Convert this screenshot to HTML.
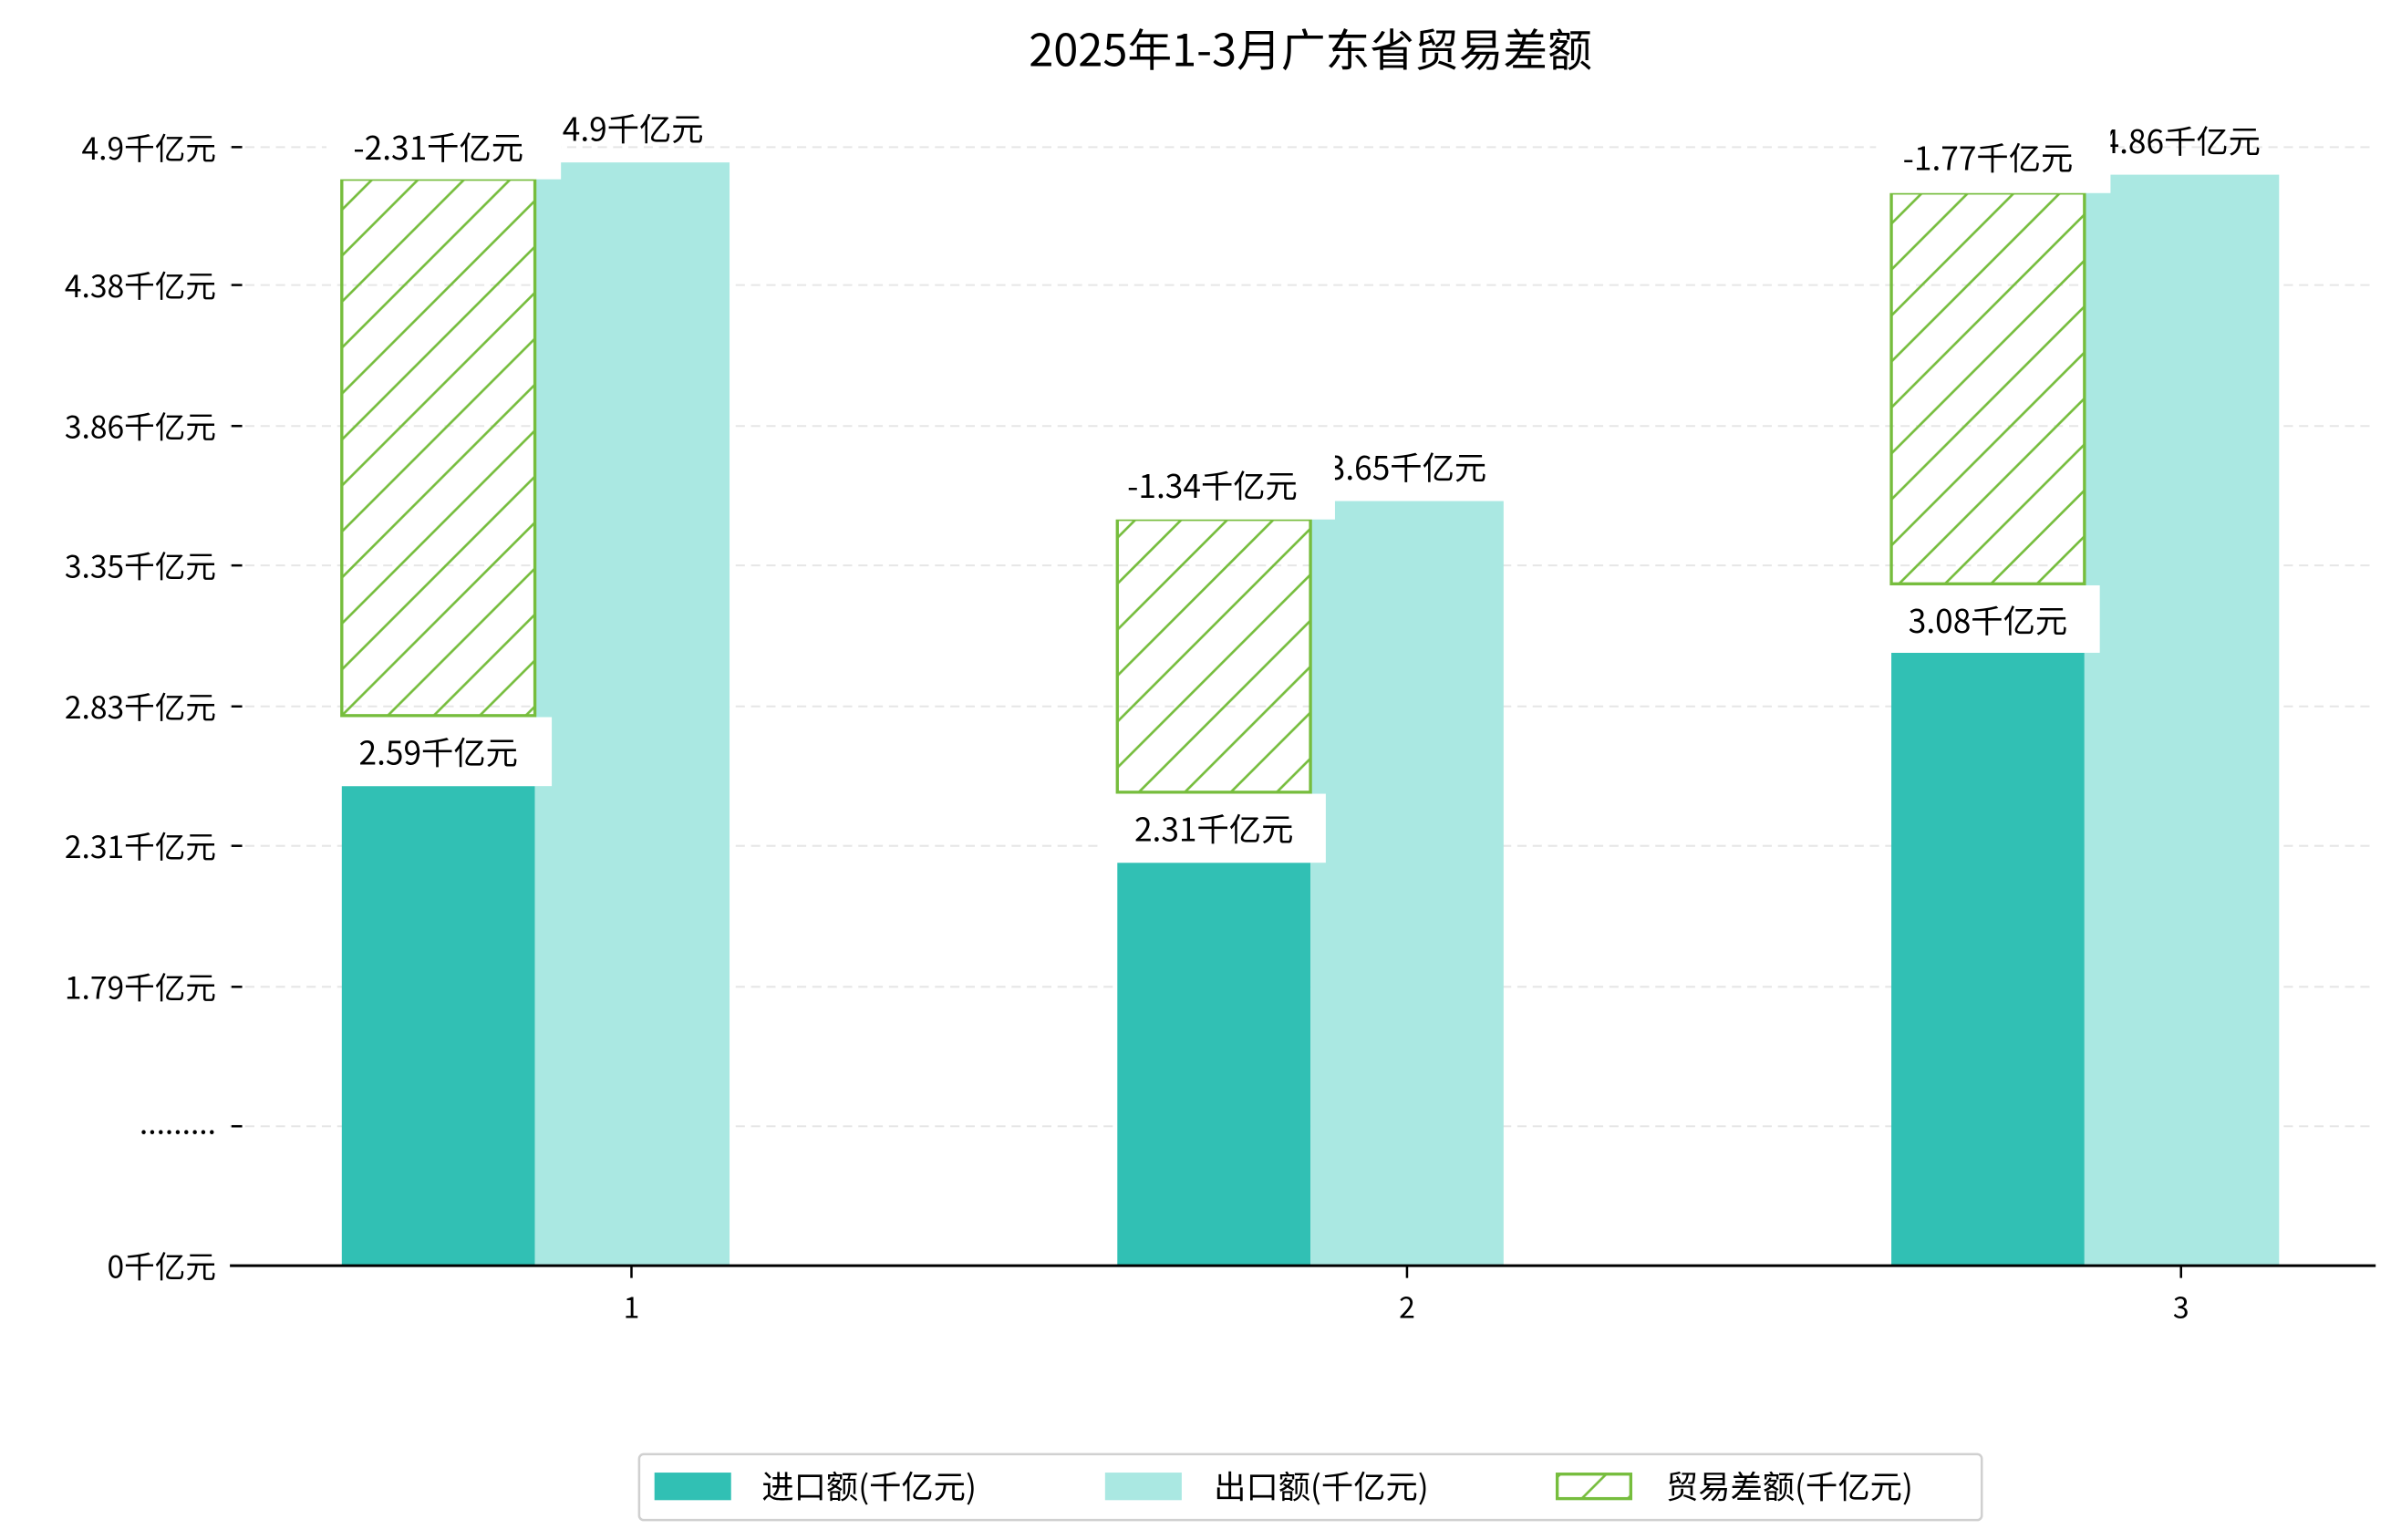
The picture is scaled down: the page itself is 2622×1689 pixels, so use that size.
<!DOCTYPE html>
<html><head><meta charset="utf-8"><style>
html,body{margin:0;padding:0;background:#fff;}
svg{display:block;}
text{font-family:"WenQuanYi Zen Hei","Noto Sans CJK SC","Liberation Sans",sans-serif;fill:#000;}
</style></head><body>
<svg width="2622" height="1689" viewBox="0 0 1560 1005" preserveAspectRatio="none" xmlns="http://www.w3.org/2000/svg">
<defs>
<pattern id="h" patternUnits="userSpaceOnUse" width="30" height="30">
<path d="M-5,35 L35,-5 M-5,5 L5,-5 M25,35 L35,25" stroke="#76bd3d" stroke-width="1.6" fill="none"/>
</pattern>
</defs>
<rect width="1560" height="1005" fill="#fff"/>
<text x="855" y="43" font-size="29" text-anchor="middle">2025年1-3月广东省贸易差额</text>
<g stroke="#e6e6e6" stroke-width="1.2" stroke-dasharray="6,4">
<line x1="150" x2="1550" y1="96" y2="96"/><line x1="150" x2="1550" y1="186" y2="186"/>
<line x1="150" x2="1550" y1="278" y2="278"/><line x1="150" x2="1550" y1="369" y2="369"/>
<line x1="150" x2="1550" y1="461" y2="461"/><line x1="150" x2="1550" y1="552" y2="552"/>
<line x1="150" x2="1550" y1="644" y2="644"/><line x1="150" x2="1550" y1="735" y2="735"/>
</g>
<g stroke="#000" stroke-width="1.5">
<line x1="151" x2="158" y1="96" y2="96"/><line x1="151" x2="158" y1="186" y2="186"/>
<line x1="151" x2="158" y1="278" y2="278"/><line x1="151" x2="158" y1="369" y2="369"/>
<line x1="151" x2="158" y1="461" y2="461"/><line x1="151" x2="158" y1="552" y2="552"/>
<line x1="151" x2="158" y1="644" y2="644"/><line x1="151" x2="158" y1="735" y2="735"/>
<line x1="412" x2="412" y1="826" y2="834"/><line x1="918" x2="918" y1="826" y2="834"/><line x1="1423" x2="1423" y1="826" y2="834"/>
</g>
<g font-size="20" text-anchor="end">
<text x="141" y="104">4.9千亿元</text><text x="141" y="194">4.38千亿元</text>
<text x="141" y="286">3.86千亿元</text><text x="141" y="377">3.35千亿元</text>
<text x="141" y="469">2.83千亿元</text><text x="141" y="560">2.31千亿元</text>
<text x="141" y="652">1.79千亿元</text><text x="141" y="740">.........</text>
<text x="141" y="834">0千亿元</text>
</g>
<g font-size="19" text-anchor="middle">
<text x="412" y="860">1</text><text x="918" y="860">2</text><text x="1423" y="860">3</text>
</g>
<rect x="223" y="513" width="126" height="313" fill="#31c0b4"/>
<rect x="349" y="106" width="127" height="720" fill="#aae8e2"/>
<rect x="223" y="117" width="126" height="350" fill="url(#h)" stroke="#76bd3d" stroke-width="2"/>
<rect x="729" y="563" width="126" height="263" fill="#31c0b4"/>
<rect x="855" y="327" width="126" height="499" fill="#aae8e2"/>
<rect x="729" y="339" width="126" height="178" fill="url(#h)" stroke="#76bd3d" stroke-width="2"/>
<rect x="1234" y="426" width="126" height="400" fill="#31c0b4"/>
<rect x="1360" y="114" width="127" height="712" fill="#aae8e2"/>
<rect x="1234" y="126" width="126" height="255" fill="url(#h)" stroke="#76bd3d" stroke-width="2"/>
<line x1="150" x2="1550" y1="826" y2="826" stroke="#000" stroke-width="1.8"/>
<g font-size="21" text-anchor="middle">
<text x="413" y="92">4.9千亿元</text>
<text x="918" y="313">3.65千亿元</text>
<text x="1423" y="100">4.86千亿元</text>
<rect x="213" y="76" width="153" height="41" fill="#fff"/><text x="286" y="104">-2.31千亿元</text>
<rect x="213" y="468" width="147" height="45" fill="#fff"/><text x="286" y="499">2.59千亿元</text>
<rect x="718" y="297" width="153" height="42" fill="#fff"/><text x="791" y="325">-1.34千亿元</text>
<rect x="719" y="518" width="146" height="45" fill="#fff"/><text x="792" y="549">2.31千亿元</text>
<rect x="1224" y="84" width="153" height="42" fill="#fff"/><text x="1297" y="111">-1.77千亿元</text>
<rect x="1224" y="382" width="146" height="44" fill="#fff"/><text x="1297" y="413">3.08千亿元</text>
</g>
<rect x="417" y="949" width="876" height="43" rx="3" fill="#fff" stroke="#d0d0d0" stroke-width="1.5"/>
<rect x="427" y="961" width="50" height="18" fill="#31c0b4"/>
<rect x="721" y="961" width="50" height="18" fill="#aae8e2"/>
<rect x="1016" y="962" width="48" height="16" fill="url(#h)" stroke="#76bd3d" stroke-width="2"/>
<g font-size="21">
<text x="497" y="978">进口额(千亿元)</text>
<text x="792" y="978">出口额(千亿元)</text>
<text x="1087" y="978">贸易差额(千亿元)</text>
</g>
</svg>
</body></html>
